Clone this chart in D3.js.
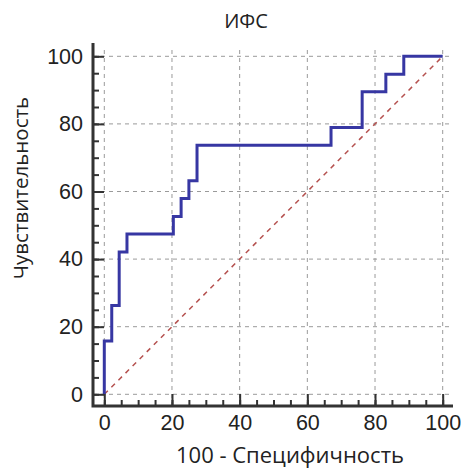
<!DOCTYPE html>
<html>
<head>
<meta charset="utf-8">
<script src="https://cdn.jsdelivr.net/npm/d3@7"></script>
<style>
  body { margin: 0; background: #fff; }
  svg { display: block; font-family: "Open Sans", "Noto Sans", sans-serif; }
  .grid line { stroke: #9a9a9a; stroke-width: 1; stroke-dasharray: 4,4; }
  .axis .tick line { stroke: #333; stroke-width: 2; }
  .axis text { fill: #222; font-size: 21.5px; }
</style>
</head>
<body>
<svg width="462" height="472"></svg>
<script>
// ROC curve vertices (100 - specificity, sensitivity), drawn as steps
var fpr = [0, 0, 2.2, 4.4, 6.7, 20.4, 22.7, 25.0, 27.4, 67.0, 76.2, 83.2, 88.5, 100];
var tpr = [0, 15.8, 26.3, 42.1, 47.4, 52.6, 57.9, 63.2, 73.7, 78.9, 89.5, 94.7, 100, 100];
var majorTicks = [0, 20, 40, 60, 80, 100];
var title = "ИФС";
var xTitle = "100 - Специфичность";
var yTitle = "Чувствительность";

var svg = d3.select("svg");

// frame of the plot (axes sit a bit outside the data box)
var frame = {left: 93, right: 451, top: 43, bottom: 406};

var x = d3.scaleLinear().domain([0, 100]).range([104.3, 442.7]);
var y = d3.scaleLinear().domain([0, 100]).range([394.3, 56.3]);

var minorTicks = d3.range(0, 101, 5);

// grid
var grid = svg.append("g").attr("class", "grid");
grid.selectAll(".v").data(majorTicks).enter().append("line")
	.attr("class", "v")
	.attr("x1", function(d) { return x(d); })
	.attr("x2", function(d) { return x(d); })
	.attr("y1", frame.bottom)
	.attr("y2", 48);
grid.selectAll(".h").data(majorTicks).enter().append("line")
	.attr("class", "h")
	.attr("x1", frame.left)
	.attr("x2", 450)
	.attr("y1", function(d) { return y(d); })
	.attr("y2", function(d) { return y(d); });

// diagonal reference line
svg.append("line")
	.attr("x1", x(0)).attr("y1", y(0))
	.attr("x2", x(100)).attr("y2", y(100))
	.attr("stroke", "#b5514f")
	.attr("stroke-width", 1.5)
	.attr("stroke-dasharray", "5,5");

// ROC step line
var line = d3.line()
	.x(function(d) { return x(d[0]); })
	.y(function(d) { return y(d[1]); })
	.curve(d3.curveStepAfter);

svg.append("path")
	.datum(d3.zip(fpr, tpr))
	.attr("d", line)
	.attr("fill", "none")
	.attr("stroke", "#3737a3")
	.attr("stroke-width", 3);

// y axis (ticks pointing inward)
var yAxisG = svg.append("g")
	.attr("class", "axis")
	.attr("transform", "translate(" + frame.left + ",0)");
yAxisG.append("g")
	.call(d3.axisLeft(y).tickValues(minorTicks).tickSize(-6).tickFormat(""))
	.call(function(g) { g.select(".domain").remove(); });
yAxisG.append("g")
	.call(d3.axisLeft(y).tickValues(majorTicks).tickSize(-11).tickPadding(10))
	.call(function(g) { g.select(".domain").remove(); });

// x axis (ticks pointing inward)
var xAxisG = svg.append("g")
	.attr("class", "axis")
	.attr("transform", "translate(0," + frame.bottom + ")");
xAxisG.append("g")
	.call(d3.axisBottom(x).tickValues(minorTicks).tickSize(-6).tickFormat(""))
	.call(function(g) { g.select(".domain").remove(); });
xAxisG.append("g")
	.call(d3.axisBottom(x).tickValues(majorTicks).tickSize(-12).tickPadding(9))
	.call(function(g) { g.select(".domain").remove(); });

// axis lines
svg.append("path")
	.attr("d", "M" + frame.left + "," + frame.top + "V" + frame.bottom + "H" + (frame.right + 2))
	.attr("fill", "none")
	.attr("stroke", "#333")
	.attr("stroke-width", 3);

// titles
svg.append("text")
	.attr("x", 246).attr("y", 28)
	.attr("text-anchor", "middle")
	.attr("font-size", 20)
	.attr("fill", "#222")
	.text(title);

svg.append("text")
	.attr("x", 290).attr("y", 463)
	.attr("text-anchor", "middle")
	.attr("font-size", 22)
	.attr("fill", "#222")
	.text(xTitle);

svg.append("text")
	.attr("transform", "translate(28,188) rotate(-90)")
	.attr("text-anchor", "middle")
	.attr("font-size", 20.5)
	.attr("fill", "#222")
	.text(yTitle);
</script>
</body>
</html>
